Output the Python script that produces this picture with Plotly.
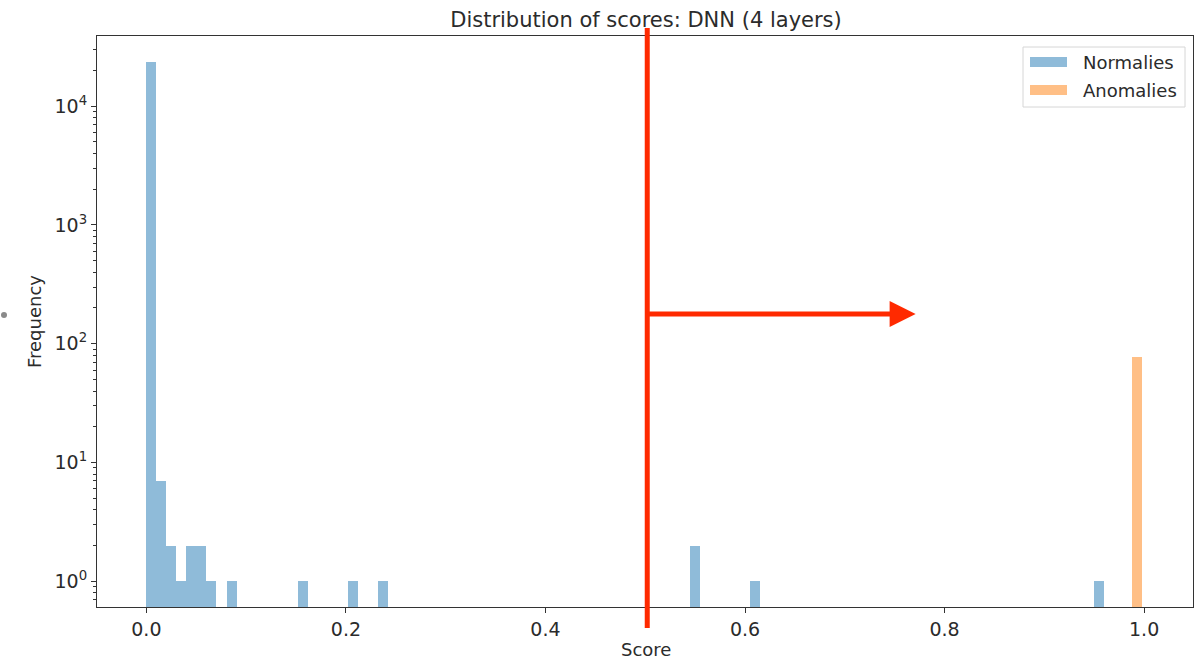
import plotly.graph_objects as go

# ---- data ----
normal_bin_left = [0.0, 0.01, 0.02, 0.03, 0.04, 0.05, 0.06, 0.081, 0.152, 0.202, 0.232, 0.545, 0.605, 0.950]
normal_counts = [23500, 7, 2, 1, 2, 2, 1, 1, 1, 1, 1, 2, 1, 1]
anomaly_bin_left = [0.988]
anomaly_counts = [78]
bin_width = 0.0100

x_tick_vals = [0.0, 0.2, 0.4, 0.6, 0.8, 1.0]
x_tick_text = ["0.0", "0.2", "0.4", "0.6", "0.8", "1.0"]
y_tick_vals = [1, 10, 100, 1000, 10000]
y_tick_text = ["10<sup>0</sup>", "10<sup>1</sup>", "10<sup>2</sup>", "10<sup>3</sup>", "10<sup>4</sup>"]
threshold = 0.502
arrow_end = 0.771

title = "Distribution of scores: DNN (4 layers)"
legend_names = ["Normalies", "Anomalies"]

# ---- styling ----
W, H = 1198, 660
ML, MR, MT, MB = 97, 5, 36, 53
X_RANGE = [-0.0495, 1.049]
Y_RANGE = [-0.216, 4.59]
BLUE = "#8fbbd9"
ORANGE = "#ffbf86"
RED = "#ff2a00"
TXT = "#2b2b2b"
FONT = "DejaVu Sans"

pw = W - ML - MR
ph = H - MT - MB


def px_x(px):
    return (px - ML) / pw


def px_y(py):
    return (H - MB - py) / ph


def data_x(v):
    return (v - X_RANGE[0]) / (X_RANGE[1] - X_RANGE[0])


fig = go.Figure()
fig.add_trace(go.Bar(x=normal_bin_left, y=normal_counts, width=bin_width, offset=0,
                     marker=dict(color=BLUE, line=dict(width=0)), name=legend_names[0],
                     showlegend=False))
fig.add_trace(go.Bar(x=anomaly_bin_left, y=anomaly_counts, width=bin_width, offset=0,
                     marker=dict(color=ORANGE, line=dict(width=0)), name=legend_names[1],
                     showlegend=False))

minor_vals = [m * 10 ** d for d in range(-1, 5) for m in range(2, 10)]

fig.update_layout(
    width=W, height=H,
    margin=dict(l=ML, r=MR, t=MT, b=MB),
    paper_bgcolor="white", plot_bgcolor="white",
    bargap=0,
    font=dict(family=FONT, color=TXT),
    title=dict(text=title, x=px_x(646), xref="paper", xanchor="center",
               y=1 - 20 / H, yref="container", yanchor="middle",
               font=dict(size=21, color=TXT, family=FONT)),
    xaxis=dict(range=X_RANGE, showgrid=False, zeroline=False,
               showline=True, mirror=True, linecolor="#333", linewidth=1,
               tickmode="array", tickvals=x_tick_vals, ticktext=x_tick_text,
               ticks="outside", ticklen=5, tickcolor="#333",
               tickfont=dict(size=19, color=TXT, family=FONT)),
    yaxis=dict(type="log", range=Y_RANGE, showgrid=False, zeroline=False,
               showline=True, mirror=True, linecolor="#333", linewidth=1,
               tickmode="array", tickvals=y_tick_vals, ticktext=y_tick_text,
               ticks="outside", ticklen=5, tickcolor="#333",
               tickfont=dict(size=19, color=TXT, family=FONT),
               minor=dict(tickmode="array", tickvals=minor_vals, ticks="outside",
                          ticklen=3, tickcolor="#333")),
)

annotations = [
    dict(text="Score", xref="paper", yref="paper", x=px_x(646), y=px_y(649),
         showarrow=False, xanchor="center", yanchor="middle",
         font=dict(size=18, color=TXT, family=FONT)),
    dict(text="Frequency", xref="paper", yref="paper", x=px_x(34), y=px_y(322),
         showarrow=False, xanchor="center", yanchor="middle", textangle=-90,
         font=dict(size=18, color=TXT, family=FONT)),
    dict(text=legend_names[0], xref="paper", yref="paper", x=px_x(1081), y=px_y(62),
         showarrow=False, xanchor="left", yanchor="middle",
         font=dict(size=18, color=TXT, family=FONT)),
    dict(text=legend_names[1], xref="paper", yref="paper", x=px_x(1081), y=px_y(90),
         showarrow=False, xanchor="left", yanchor="middle",
         font=dict(size=18, color=TXT, family=FONT)),
]

tx = data_x(threshold)
ax_end = data_x(arrow_end)
head_len = 26 / pw
head_half = 13 / ph
ay = px_y(314)

shapes = [
    # legend frame
    dict(type="rect", xref="paper", yref="paper", x0=px_x(1023), x1=px_x(1185),
         y0=px_y(107), y1=px_y(47), line=dict(color="#d6d6d6", width=1),
         fillcolor="rgba(255,255,255,0.8)", layer="above"),
    dict(type="rect", xref="paper", yref="paper", x0=px_x(1030), x1=px_x(1067),
         y0=px_y(67), y1=px_y(57), line=dict(width=0), fillcolor=BLUE, layer="above"),
    dict(type="rect", xref="paper", yref="paper", x0=px_x(1030), x1=px_x(1067),
         y0=px_y(95), y1=px_y(85), line=dict(width=0), fillcolor=ORANGE, layer="above"),
    # threshold line
    dict(type="line", xref="paper", yref="paper", x0=tx, x1=tx,
         y0=px_y(628), y1=px_y(28), line=dict(color=RED, width=5), layer="above"),
    # arrow shaft
    dict(type="line", xref="paper", yref="paper", x0=tx, x1=ax_end - head_len + 0.002,
         y0=ay, y1=ay, line=dict(color=RED, width=5), layer="above"),
    # arrow head
    dict(type="path", xref="paper", yref="paper",
         path=f"M {ax_end - head_len},{ay + head_half} L {ax_end},{ay} L {ax_end - head_len},{ay - head_half} Z",
         fillcolor=RED, line=dict(color=RED, width=0), layer="above"),
    # small gray dot at left edge
    dict(type="circle", xref="paper", yref="paper",
         x0=px_x(1), x1=px_x(7), y0=px_y(318), y1=px_y(312),
         fillcolor="#8a8a8a", line=dict(width=0), layer="above"),
]

fig.update_layout(annotations=annotations, shapes=shapes)

fig.write_html("out.html")
